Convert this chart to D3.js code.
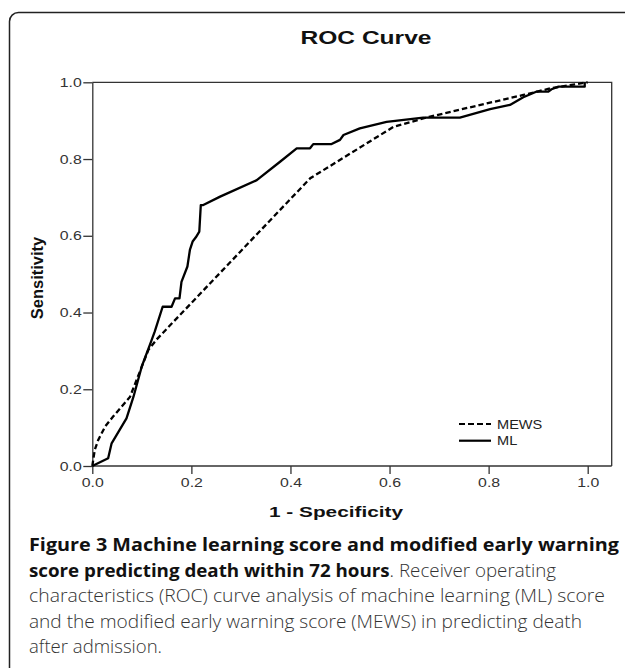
<!DOCTYPE html>
<html>
<head>
<meta charset="utf-8">
<script src="https://cdn.jsdelivr.net/npm/d3@7"></script>
<style>
  body { margin: 0; background: #fff; }
  svg { display: block; }
</style>
</head>
<body>
<svg id="chart" width="625" height="668"></svg>
<script>
// ROC points (1 - specificity, sensitivity)
const mewsFpr = [0, 0.005, 0.012, 0.026, 0.042, 0.076, 0.113, 0.13, 0.44, 0.608, 0.68, 0.87, 0.924, 1.0]
const mewsTpr = [0, 0.042, 0.068, 0.103, 0.129, 0.18, 0.302, 0.33, 0.75, 0.884, 0.91, 0.967, 0.984, 1.0]

const mlFpr = [0, 0.032, 0.039, 0.069, 0.083, 0.1, 0.116, 0.126, 0.142, 0.16, 0.167, 0.176, 0.18, 0.192, 0.197,
    0.2025, 0.209, 0.216, 0.219, 0.224, 0.258, 0.332, 0.379, 0.4126, 0.4395, 0.446, 0.483, 0.5, 0.507, 0.54,
    0.594, 0.668, 0.742, 0.803, 0.843, 0.87, 0.896, 0.92, 0.927, 0.941, 0.961, 0.994, 0.994]
const mlTpr = [0, 0.02, 0.059, 0.124, 0.18, 0.26, 0.315, 0.35, 0.415, 0.415, 0.437, 0.437, 0.48, 0.52, 0.563,
    0.585, 0.596, 0.611, 0.68, 0.68, 0.702, 0.745, 0.793, 0.828, 0.828, 0.839, 0.839, 0.85, 0.8626, 0.88,
    0.897, 0.908, 0.908, 0.93, 0.941, 0.961, 0.9755, 0.9755, 0.982, 0.9886, 0.9886, 0.9886, 1.0]

const tickValues = [0, 0.2, 0.4, 0.6, 0.8, 1.0]
const seriesNames = ["MEWS", "ML"]

const chartTitle = "ROC Curve"
const xTitle = "1 - Specificity"
const yTitle = "Sensitivity"

const captionLines = [
    [["Figure 3 Machine learning score and modified early warning", true]],
    [["score predicting death within 72 hours", true], [". Receiver operating", false]],
    [["characteristics (ROC) curve analysis of machine learning (ML) score", false]],
    [["and the modified early warning score (MEWS) in predicting death", false]],
    [["after admission.", false]]
]

// layout
const FRAME = {left: 92.3, right: 611.7, top: 82.3, bottom: 466}
const CAPTION_WIDTHS = [590, 527, 576, 553, 133]

// the source figure is stretched sideways, so text gets widened too
function stretch(sel, k){
    sel.each(function(){
        let w = this.getComputedTextLength()
        d3.select(this)
            .attr("textLength", w * k)
            .attr("lengthAdjust", "spacingAndGlyphs")
    })
}

let svg = d3.select("#chart")

// rounded figure border, runs off the right and bottom edges
svg.append("rect")
    .attr("x", 9.5).attr("y", 12.5)
    .attr("width", 700).attr("height", 700)
    .attr("rx", 9)
    .attr("fill", "none")
    .attr("stroke", "#222")
    .attr("stroke-width", 1.5)

// scales: 1.0 sits at 587.7, frame continues to 611.7
let x = d3.scaleLinear()
    .domain([0, 1])
    .range([FRAME.left, 587.7])
let y = d3.scaleLinear()
    .domain([0, 1])
    .range([FRAME.bottom, FRAME.top])

let font = "'Liberation Sans', Arial, sans-serif"

// frame top + right
let g = svg.append("g")
g.append("path")
    .attr("d", `M${FRAME.left},${FRAME.top}H${FRAME.right}V${FRAME.bottom}`)
    .attr("fill", "none")
    .attr("stroke", "#333")
    .attr("stroke-width", 1.3)

let xAxisG = g.append("g")
    .attr("transform", `translate(0,${FRAME.bottom})`)
    .call(d3.axisBottom(x).tickValues(tickValues).tickFormat(d3.format(".1f"))
        .tickSize(8).tickSizeOuter(0).tickPadding(4))
let yAxisG = g.append("g")
    .attr("transform", `translate(${FRAME.left},0)`)
    .call(d3.axisLeft(y).tickValues(tickValues).tickFormat(d3.format(".1f"))
        .tickSize(9).tickSizeOuter(0).tickPadding(1.5))

// bottom axis line has to reach the frame's right side
xAxisG.select(".domain").attr("d", `M${FRAME.left},0H${FRAME.right}`)

g.selectAll(".domain, .tick line")
    .attr("stroke", "#333")
    .attr("stroke-width", 1.3)
g.selectAll(".tick text")
    .attr("font-family", font)
    .attr("font-size", 13)
    .attr("fill", "#333")
    .call(stretch, 1.22)

// curves
let line = d3.line().x(d => x(d[0])).y(d => y(d[1]))
let mews = mewsFpr.map((v, i) => [v, mewsTpr[i]])
let ml = mlFpr.map((v, i) => [v, mlTpr[i]])

g.append("path")
    .datum(ml)
    .attr("d", line)
    .attr("fill", "none")
    .attr("stroke", "#000")
    .attr("stroke-width", 2.3)
    .attr("stroke-linejoin", "round")
g.append("path")
    .datum(mews)
    .attr("d", line)
    .attr("fill", "none")
    .attr("stroke", "#000")
    .attr("stroke-width", 2.3)
    .attr("stroke-dasharray", "5.5,3")

// legend
let legend = g.append("g").attr("transform", "translate(459,424)")
seriesNames.forEach((name, i) => {
    let row = legend.append("g").attr("transform", `translate(0,${i * 16.7})`)
    row.append("line")
        .attr("x1", 0).attr("x2", 32)
        .attr("stroke", "#000")
        .attr("stroke-width", 2.2)
        .attr("stroke-dasharray", i == 0 ? "6,3" : null)
    row.append("text")
        .attr("x", 38).attr("dy", "0.35em")
        .attr("font-family", font)
        .attr("font-size", 13)
        .attr("fill", "#222")
        .text(name)
        .call(stretch, 1.12)
})

// titles
svg.append("text")
    .attr("x", 366).attr("y", 44)
    .attr("text-anchor", "middle")
    .attr("font-family", font)
    .attr("font-weight", "bold")
    .attr("font-size", 18.5)
    .attr("fill", "#111")
    .text(chartTitle)
    .attr("textLength", 131)
    .attr("lengthAdjust", "spacingAndGlyphs")

svg.append("text")
    .attr("x", 336).attr("y", 517)
    .attr("text-anchor", "middle")
    .attr("font-family", font)
    .attr("font-weight", "bold")
    .attr("font-size", 15.5)
    .attr("fill", "#111")
    .text(xTitle)
    .attr("textLength", 134)
    .attr("lengthAdjust", "spacingAndGlyphs")

svg.append("text")
    .attr("transform", `translate(43,278) rotate(-90)`)
    .attr("text-anchor", "middle")
    .attr("font-family", font)
    .attr("font-weight", "bold")
    .attr("font-size", 16.5)
    .attr("fill", "#111")
    .text(yTitle)

// caption under the chart
let cap = svg.append("g")
captionLines.forEach((parts, i) => {
    let t = cap.append("text")
        .attr("x", 29)
        .attr("y", 551 + i * 25.5)
        .attr("font-family", "'Open Sans', 'Noto Sans', sans-serif")
        .attr("font-size", 18)
    parts.forEach(([s, bold]) => {
        t.append("tspan")
            .attr("font-weight", bold ? 700 : 300)
            .attr("fill", bold ? "#111" : "#333")
            .text(s)
    })
    t.attr("textLength", CAPTION_WIDTHS[i])
        .attr("lengthAdjust", "spacingAndGlyphs")
})
</script>
</body>
</html>
